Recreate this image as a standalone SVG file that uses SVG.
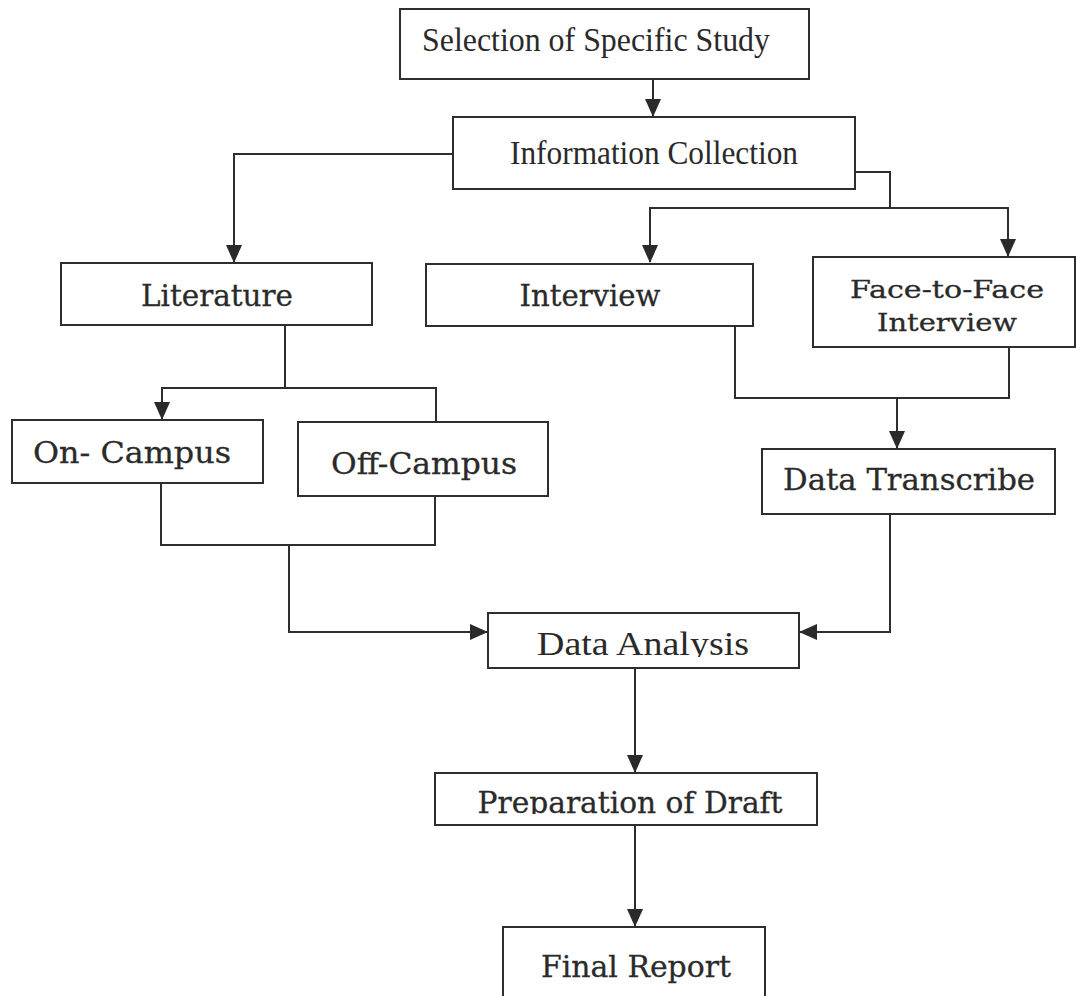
<svg xmlns="http://www.w3.org/2000/svg" width="1076" height="996" viewBox="0 0 1076 996">
<style>
.box{fill:#fff;stroke:#2e2e2e;stroke-width:2}
.t{font-family:"Liberation Serif","Times New Roman",serif;font-size:34px;fill:#2a2a2a;text-anchor:middle}
.b{font-family:"DejaVu Serif","Liberation Serif",serif;font-size:30px;fill:#2a2a2a;stroke:#2a2a2a;stroke-width:0.3;text-anchor:middle}
.s{font-size:25px}
.c{fill:none;stroke:#2e2e2e;stroke-width:2}
</style>
<defs>
<marker id="ah" markerUnits="userSpaceOnUse" markerWidth="18" markerHeight="18" viewBox="0 0 18 18" refX="17" refY="9" orient="auto">
<path d="M0,1 L18,9 L0,17 Z" fill="#2a2a2a"/>
</marker>
<clipPath id="clipDA"><rect x="488" y="613" width="311" height="44"/></clipPath>
<clipPath id="clipPD"><rect x="435" y="773" width="382" height="41"/></clipPath>
</defs>
<rect width="1076" height="996" fill="#fff"/>
<g id="connectors">
<path class="c" d="M653,79 V116" marker-end="url(#ah)"/>
<path class="c" d="M453,154 H234 V262" marker-end="url(#ah)"/>
<path class="c" d="M855,172 H890 V208 H650 V262" marker-end="url(#ah)"/>
<path class="c" d="M890,208 H1008 V256" marker-end="url(#ah)"/>
<path class="c" d="M285,326 V388 H162 V419" marker-end="url(#ah)"/>
<path class="c" d="M285,388 H436 V422"/>
<path class="c" d="M161,483 V545 H435 V496"/>
<path class="c" d="M289,545 V632 H487" marker-end="url(#ah)"/>
<path class="c" d="M735,326 V398 H1009 V347"/>
<path class="c" d="M897,398 V448" marker-end="url(#ah)"/>
<path class="c" d="M890,514 V632 H800" marker-end="url(#ah)"/>
<path class="c" d="M635,668 V772" marker-end="url(#ah)"/>
<path class="c" d="M635,825 V926" marker-end="url(#ah)"/>
</g>
<g id="selection">
<rect class="box" x="400" y="9" width="409" height="70"/>
<text class="t" x="596" y="51" textLength="348" lengthAdjust="spacingAndGlyphs">Selection of Specific Study</text>
</g>
<g id="information-collection">
<rect class="box" x="453" y="117" width="402" height="72"/>
<text class="t" x="654" y="164" textLength="288" lengthAdjust="spacingAndGlyphs">Information Collection</text>
</g>
<g id="literature">
<rect class="box" x="61" y="263" width="311" height="62"/>
<text class="b" x="217" y="306" textLength="152" lengthAdjust="spacingAndGlyphs">Literature</text>
</g>
<g id="interview">
<rect class="box" x="426" y="264" width="327" height="62"/>
<text class="b" x="590" y="306" textLength="141" lengthAdjust="spacingAndGlyphs">Interview</text>
</g>
<g id="face-to-face">
<rect class="box" x="813" y="257" width="262" height="90"/>
<text class="b s" x="947" y="298" textLength="194" lengthAdjust="spacingAndGlyphs">Face-to-Face</text>
<text class="b s" x="947" y="331" textLength="140" lengthAdjust="spacingAndGlyphs">Interview</text>
</g>
<g id="on-campus">
<rect class="box" x="12" y="420" width="251" height="63"/>
<text class="b" x="132" y="463" textLength="198" lengthAdjust="spacingAndGlyphs">On- Campus</text>
</g>
<g id="off-campus">
<rect class="box" x="298" y="422" width="250" height="74"/>
<text class="b" x="424" y="474" textLength="186" lengthAdjust="spacingAndGlyphs">Off-Campus</text>
</g>
<g id="data-transcribe">
<rect class="box" x="762" y="449" width="293" height="65"/>
<text class="b" x="909" y="490" textLength="252" lengthAdjust="spacingAndGlyphs">Data Transcribe</text>
</g>
<g id="data-analysis">
<rect class="box" x="488" y="613" width="311" height="55"/>
<text class="t" x="643" y="655" textLength="212" lengthAdjust="spacingAndGlyphs" clip-path="url(#clipDA)">Data Analysis</text>
</g>
<g id="preparation-of-draft">
<rect class="box" x="435" y="773" width="382" height="52"/>
<text class="b" x="630" y="813" textLength="305" lengthAdjust="spacingAndGlyphs" clip-path="url(#clipPD)">Preparation of Draft</text>
</g>
<g id="final-report">
<rect class="box" x="503" y="927" width="262" height="80"/>
<text class="b" x="636" y="977" textLength="190" lengthAdjust="spacingAndGlyphs">Final Report</text>
</g>
</svg>
